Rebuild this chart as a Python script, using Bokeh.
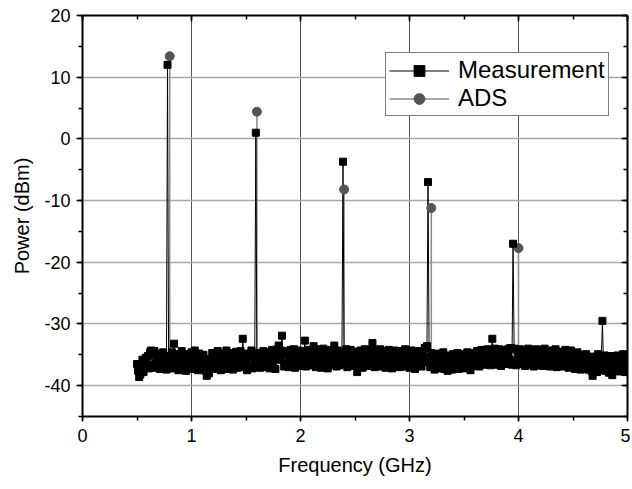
from bokeh.plotting import figure
from bokeh.models import (LinearAxis, SingleIntervalTicker, Legend, LegendItem,
                          Range1d, CustomJSTickFormatter)
from bokeh.embed import file_html
from bokeh.resources import INLINE

# ---- data ----
meas_start = 0.5
meas_step = 0.01
meas_power = [
    -36.5, -37.6, -38.6, -38.2, -37.3, -35.8, -37.8, -36.8, -35.5, -36.9,  # 0.50
    -35.2, -37.2, -34.6, -34.3, -36.6, -35.0, -34.4, -37.1, -35.8, -36.8,  # 0.60
    -34.9, -37.3, -35.6, -36.5, -34.6, -37.0, -35.2, -37.4, 12.0, -36.6,   # 0.70
    -35.3, -36.5, -34.6, -37.2, -33.2, -35.7, -37.0, -34.9, -37.5, -35.3,  # 0.80
    -36.6, -34.4, -37.1, -35.1, -36.2, -37.6, -34.9, -36.8, -35.5, -37.3,  # 0.90
    -34.6, -36.7, -35.7, -34.3, -37.0, -35.3, -37.5, -34.8, -36.4, -35.4,  # 1.00
    -37.2, -35.0, -36.2, -37.6, -38.4, -37.0, -38.0, -35.7, -36.7, -34.7,  # 1.10
    -35.5, -37.3, -34.9, -36.5, -34.4, -37.0, -35.4, -37.5, -34.8, -36.2,  # 1.20
    -35.2, -36.9, -34.3, -35.8, -37.3, -34.7, -36.5, -35.1, -37.4, -35.5,  # 1.30
    -36.8, -34.5, -37.1, -35.3, -36.4, -34.4, -37.0, -32.4, -34.9, -36.6,  # 1.40
    -35.7, -37.5, -34.8, -36.8, -35.4, -34.3, -37.2, -35.2, -36.5, 1.0,    # 1.50
    -35.8, -36.8, -34.7, -37.1, -35.1, -36.3, -34.4, -37.0, -35.5, -34.8,  # 1.60
    -36.6, -34.6, -37.2, -35.1, -34.2, -36.5, -35.4, -37.3, -34.8, -34.1,  # 1.70
    -33.5, -35.8, -34.3, -31.9, -35.0, -36.9, -34.6, -36.4, -34.4, -37.0,  # 1.80
    -35.2, -34.2, -36.7, -35.7, -34.1, -37.1, -34.8, -35.9, -34.3, -36.8,  # 1.90
    -34.9, -36.4, -34.4, -35.5, -32.7, -36.9, -35.0, -34.2, -36.6, -35.3,  # 2.00
    -34.3, -36.7, -33.6, -35.6, -37.0, -34.7, -34.1, -36.4, -35.2, -37.1,  # 2.10
    -34.8, -34.0, -36.8, -35.5, -34.4, -37.2, -34.9, -35.9, -34.2, -36.6,  # 2.20
    -35.2, -33.5, -35.8, -36.9, -34.3, -35.4, -36.7, -34.5, -35.7, -3.7,   # 2.30
    -36.4, -35.0, -34.1, -37.0, -34.7, -35.9, -34.2, -36.8, -35.4, -34.5,  # 2.40
    -36.6, -35.5, -37.8, -34.9, -36.9, -34.3, -35.9, -37.1, -34.7, -34.1,  # 2.50
    -35.6, -36.8, -34.4, -35.2, -36.5, -34.2, -33.1, -35.8, -37.0, -34.8,  # 2.60
    -34.3, -36.7, -35.4, -34.1, -36.9, -35.0, -35.9, -34.4, -37.1, -35.1,  # 2.70
    -35.8, -34.2, -36.6, -35.2, -37.2, -34.7, -34.3, -36.8, -35.5, -36.3,  # 2.80
    -34.9, -37.0, -34.4, -35.7, -36.7, -34.8, -34.1, -36.9, -35.3, -35.9,  # 2.90
    -37.1, -35.0, -34.3, -36.6, -35.5, -37.3, -34.6, -35.9, -36.8, -34.4,  # 3.00
    -35.6, -36.9, -34.9, -36.2, -33.9, -35.4, -33.6, -7.0, -35.9, -37.0,   # 3.10
    -34.7, -36.7, -35.5, -37.4, -35.0, -36.9, -35.9, -34.8, -37.2, -35.3,  # 3.20
    -36.8, -34.6, -37.3, -35.6, -36.4, -37.6, -35.1, -37.0, -35.7, -37.4,  # 3.30
    -34.9, -37.1, -35.9, -36.6, -34.7, -37.3, -35.5, -36.9, -34.9, -36.2,  # 3.40
    -37.2, -35.3, -36.4, -34.6, -37.0, -35.8, -37.5, -35.1, -36.6, -34.7,  # 3.50
    -35.6, -36.8, -34.4, -35.8, -36.9, -34.9, -34.2, -36.6, -35.4, -34.3,  # 3.60
    -36.5, -35.1, -34.1, -35.9, -36.7, -34.5, -32.4, -35.2, -34.0, -35.7,  # 3.70
    -36.6, -34.7, -34.1, -35.8, -36.8, -35.0, -34.2, -35.5, -36.5, -34.5,  # 3.80
    -35.3, -34.0, -36.0, -33.9, -36.6, -17.0, -34.0, -35.8, -36.7, -34.4,  # 3.90
    -35.5, -34.1, -36.5, -35.1, -34.2, -35.9, -36.8, -34.5, -35.3, -34.0,  # 4.00
    -36.6, -35.2, -34.3, -36.0, -36.9, -34.7, -34.1, -35.8, -36.7, -34.9,  # 4.10
    -34.2, -35.6, -36.8, -34.8, -34.0, -35.9, -36.6, -35.1, -34.5, -36.9,  # 4.20
    -35.4, -34.3, -36.5, -35.0, -34.1, -37.0, -35.8, -34.6, -36.7, -34.5,  # 4.30
    -35.9, -36.9, -34.8, -34.2, -36.5, -35.4, -37.1, -35.0, -34.3, -36.0,  # 4.40
    -36.8, -35.2, -37.3, -35.5, -34.6, -37.0, -35.8, -37.4, -35.0, -36.4,  # 4.50
    -35.5, -37.1, -34.9, -36.6, -37.4, -35.3, -36.9, -37.6, -38.4, -36.1,  # 4.60
    -35.3, -37.3, -37.8, -34.9, -36.9, -37.5, -35.7, -29.5, -37.2, -35.1,  # 4.70
    -37.6, -36.6, -35.5, -37.9, -36.9, -35.2, -38.3, -37.4, -36.2, -35.3,  # 4.80
    -37.3, -35.1, -36.8, -37.7, -35.6, -37.1, -34.9, -36.5, -37.8, -36.0,  # 4.90
    -35.8,                                                                 # 5.00
]
meas_freq = [round(meas_start + meas_step * i, 2) for i in range(len(meas_power))]

ads_freq = [0.8, 1.6, 2.4, 3.2, 4.0]
ads_power = [13.4, 4.4, -8.2, -11.2, -17.7]
ads_floor = -36.0

x_ticks = [0, 1, 2, 3, 4, 5]
y_ticks = [-40, -30, -20, -10, 0, 10, 20]

FONT = "Liberation Sans"

# ADS line: floor with spikes to each harmonic
ads_line_x = [meas_freq[0]]
ads_line_y = [ads_floor]
for f, pw in zip(ads_freq, ads_power):
    ads_line_x += [f, f, f]
    ads_line_y += [ads_floor, pw, ads_floor]
ads_line_x.append(meas_freq[-1])
ads_line_y.append(ads_floor)

p = figure(frame_width=545, frame_height=401,
           x_range=Range1d(0, 5), y_range=Range1d(-45, 20),
           output_backend="svg", toolbar_location=None,
           min_border_left=82, min_border_top=15, min_border_right=3,
           min_border_bottom=62)
p.outline_line_color = None
p.background_fill_color = "white"

xt = SingleIntervalTicker(interval=1, num_minor_ticks=2)
yt = SingleIntervalTicker(interval=10, num_minor_ticks=2)

p.xaxis.ticker = xt
p.yaxis.ticker = yt
p.xaxis.major_label_overrides = {t: str(t) for t in x_ticks}
p.yaxis.major_label_overrides = {t: str(t) for t in y_ticks}
for ax in (p.xaxis[0], p.yaxis[0]):
    ax.axis_line_width = 2
    ax.axis_line_color = "black"
    ax.major_tick_line_color = "black"
    ax.minor_tick_line_color = "black"
    ax.major_tick_line_width = 1.5
    ax.minor_tick_line_width = 1.5
    ax.major_label_text_font = FONT
    ax.major_label_text_font_size = "18px"
    ax.major_label_text_color = "black"
    ax.axis_label_text_font = FONT
    ax.axis_label_text_font_size = "20px"
    ax.axis_label_text_font_style = "normal"
    ax.axis_label_text_color = "black"

p.xaxis.axis_label = "Frequency (GHz)"
p.yaxis.axis_label = "Power (dBm)"
p.xaxis.major_tick_in = 0
p.xaxis.major_tick_out = 5
p.xaxis.minor_tick_in = 0
p.xaxis.minor_tick_out = 4
p.xaxis.major_label_standoff = 7
p.xaxis.axis_label_standoff = 9
p.yaxis.major_tick_in = 0
p.yaxis.major_tick_out = 6
p.yaxis.minor_tick_in = 0
p.yaxis.minor_tick_out = 4
p.yaxis.major_label_standoff = 6
p.yaxis.axis_label_standoff = 8

blank = CustomJSTickFormatter(code="return '';")
top = LinearAxis(ticker=SingleIntervalTicker(interval=1, num_minor_ticks=2), formatter=blank)
right = LinearAxis(ticker=SingleIntervalTicker(interval=10, num_minor_ticks=2), formatter=blank)
for ax in (top, right):
    ax.axis_line_width = 2
    ax.major_tick_in = 6
    ax.major_tick_out = 0
    ax.minor_tick_in = 4
    ax.minor_tick_out = 0
    ax.major_tick_line_width = 1.5
    ax.minor_tick_line_width = 1.5
    ax.major_label_standoff = 0
    ax.major_label_text_font_size = "1px"
p.add_layout(top, "above")
p.add_layout(right, "right")

p.xgrid.ticker = xt
p.ygrid.ticker = yt
p.xgrid.grid_line_color = "#555555"
p.xgrid.grid_line_width = 1
p.ygrid.grid_line_color = "#a8a8a8"
p.ygrid.grid_line_width = 1.5

ads_line = p.line(ads_line_x, ads_line_y, line_color="#8a8a8a", line_width=1.5)
meas_line = p.line(meas_freq, meas_power, line_color="black", line_width=1)
ads_pts = p.scatter(ads_freq, ads_power, marker="circle", size=9,
                    fill_color="#555555", line_color="#555555")
meas_pts = p.scatter(meas_freq, meas_power, marker="square", size=7,
                     fill_color="black", line_color="black")

legend = Legend(items=[
    LegendItem(label="Measurement", renderers=[meas_line, meas_pts]),
    LegendItem(label="ADS", renderers=[ads_line, ads_pts]),
], location=(303, 300))
legend.label_text_font = FONT
legend.label_text_font_size = "24px"
legend.label_text_color = "black"
legend.border_line_color = "black"
legend.border_line_width = 1
legend.background_fill_color = "white"
legend.background_fill_alpha = 1
legend.padding = 3
legend.spacing = 0
legend.margin = 0
legend.glyph_width = 60
legend.glyph_height = 27
legend.label_height = 27
legend.label_standoff = 9
p.add_layout(legend)

open("out.html", "w").write(file_html(p, INLINE))
